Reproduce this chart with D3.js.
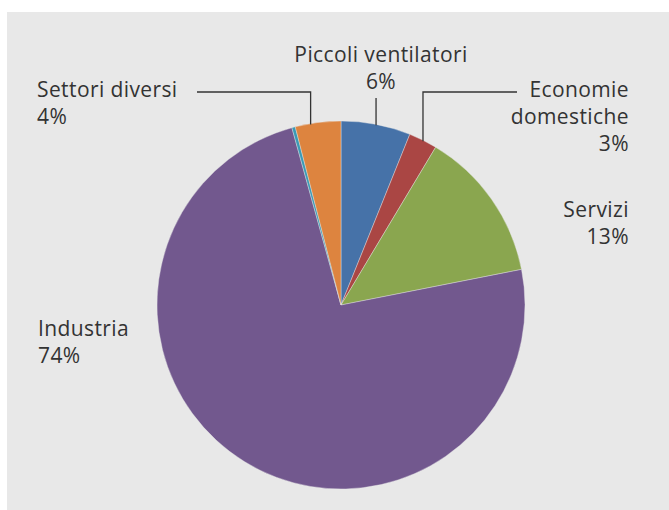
<!DOCTYPE html>
<html lang="it">
<head>
<meta charset="utf-8">
<title>Pie</title>
<script src="https://d3js.org/d3.v7.min.js"></script>
<style>
  body { margin: 0; background: #fff; }
  text { font-family: "Open Sans", sans-serif; fill: #333; }
</style>
</head>
<body>
<script>
var w = 669, h = 510;

// data, clockwise from 12 o'clock
var categories = ["Piccoli ventilatori", "Economie domestiche", "Servizi", "Industria", "Altro", "Settori diversi"];
var values = [6.1, 2.5, 13.3, 73.8, 0.3, 4.0];
var pctLabels = ["6%", "3%", "13%", "74%", "", "4%"];
var colors = ["#4672a8", "#aa4644", "#8aa64f", "#72588e", "#3b9ab5", "#dd843f"];

var cx = 341, cy = 305, r = 184;

var svg = d3.select("body").append("svg")
    .attr("width", w)
    .attr("height", h);

svg.append("rect")
    .attr("x", 7).attr("y", 12)
    .attr("width", w - 7).attr("height", h - 12)
    .attr("fill", "#e8e8e8");

var pie = d3.pie().sort(null).value(function(d) { return d; });
var arcs = pie(values);
var arc = d3.arc().innerRadius(0).outerRadius(r);

var g = svg.append("g").attr("transform", "translate(" + cx + "," + cy + ")");

g.selectAll("path")
    .data(arcs)
    .enter()
    .append("path")
    .attr("d", arc)
    .attr("fill", function(d, i) { return colors[i]; })
    .attr("stroke", "#e8e8e8")
    .attr("stroke-width", 0.4);

// point on the rim, f = fraction across the slice
function rim(i, f) {
    var a = arcs[i].startAngle + f * (arcs[i].endAngle - arcs[i].startAngle);
    return [cx + r * Math.sin(a), cy - r * Math.cos(a)];
}

// leader lines
var line = d3.line();
var p0 = rim(0, 0.5), p1 = rim(1, 0.5), p5 = rim(5, 0.34);
var leaders = [
    [[p0[0], 98], [p0[0], p0[1] + 1]],
    [[517, 92], [p1[0], 92], [p1[0], p1[1] + 1]],
    [[197, 92], [p5[0], 92], [p5[0], p5[1] + 1]]
];
svg.selectAll("path.leader")
    .data(leaders)
    .enter()
    .append("path")
    .attr("class", "leader")
    .attr("d", line)
    .attr("fill", "none")
    .attr("stroke", "#333")
    .attr("stroke-width", 1.3);

// label layout
var labels = [
    { lines: ["Piccoli ventilatori", pctLabels[0]], x: 381, y: 62, anchor: "middle" },
    { lines: ["Economie", "domestiche", pctLabels[1]], x: 629, y: 97, anchor: "end" },
    { lines: ["Servizi", pctLabels[2]], x: 629, y: 217, anchor: "end" },
    { lines: ["Industria", pctLabels[3]], x: 38, y: 336, anchor: "start" },
    { lines: ["Settori diversi", pctLabels[5]], x: 37, y: 97, anchor: "start" }
];

labels.forEach(function(l) {
    var t = svg.append("text")
        .attr("x", l.x)
        .attr("y", l.y)
        .attr("text-anchor", l.anchor)
        .style("font-size", "21px")
        .style("letter-spacing", "0.4px");
    l.lines.forEach(function(s, k) {
        t.append("tspan")
            .attr("x", l.x)
            .attr("dy", k == 0 ? 0 : 26.8)
            .text(s);
    });
});
</script>
</body>
</html>
